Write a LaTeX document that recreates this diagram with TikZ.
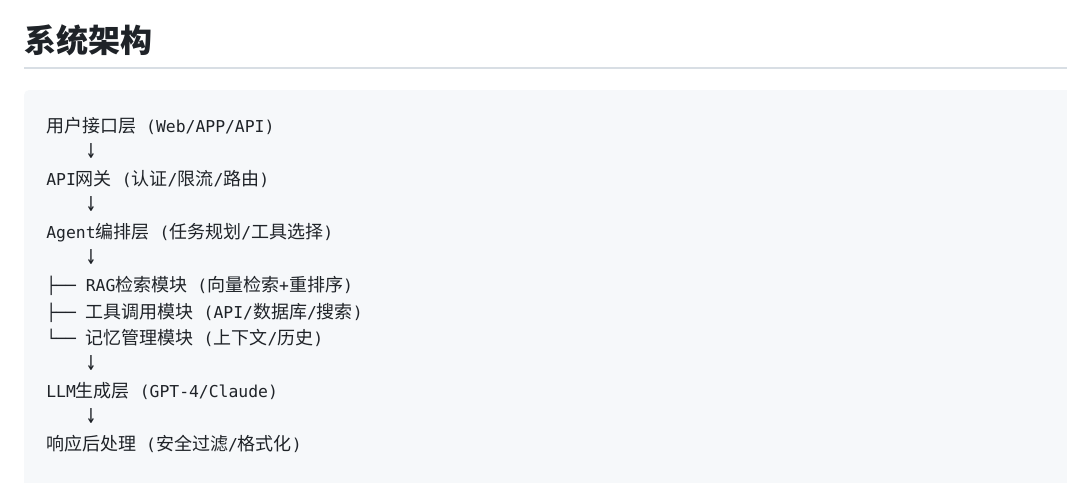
\documentclass[tikz,border=0pt]{standalone}
\usepackage{fontspec}
\newfontfamily\codefont{DejaVu Sans Mono}
\newfontfamily\cjkfont{Noto Sans CJK SC}
\newcommand\zh[1]{{\cjkfont\fontsize{13.5pt}{16pt}\selectfont #1}}
\newcommand\downarr{\scalebox{1.05}[1.7]{↓}}
\definecolor{codebg}{HTML}{F6F8FA}
\definecolor{codeink}{HTML}{1F2328}
\definecolor{rulegray}{HTML}{D8DEE4}
\tikzset{
  codeline/.style={anchor=base west, inner sep=0pt, text=codeink, font=\codefont\fontsize{12.3pt}{15pt}\selectfont},
  headline/.style={anchor=base west, inner sep=0pt, text=codeink, font=\cjkfont\bfseries\fontsize{24pt}{28pt}\selectfont}
}

\begin{document}
\begin{tikzpicture}[x=0.75pt, y=-0.75pt]
  \useasboundingbox (0,0) rectangle (1067,482);
  \fill[white] (0,0) rectangle (1067,482);
  \node[headline] (title) at (24,52) {系统架构};
  \draw[rulegray, line width=1.2pt] (24,68) -- (1067,68);
  \fill[codebg, rounded corners=4pt] (24,90) rectangle (1090,500);
  \node[codeline] (user) at (46,132.5) {\zh{用户接口层} (Web/APP/API)};
  \node[codeline] (arr1) at (85.6,158) {\downarr};
  \node[codeline] (gateway) at (46,185.5) {API\zh{网关} (\zh{认证}/\zh{限流}/\zh{路由})};
  \node[codeline] (arr2) at (85.6,211) {\downarr};
  \node[codeline] (agent) at (46,238.5) {Agent\zh{编排层} (\zh{任务规划}/\zh{工具选择})};
  \node[codeline] (arr3) at (85.6,264) {\downarr};
  \node[codeline] (rag) at (46,291.5) {├── RAG\zh{检索模块} (\zh{向量检索}+\zh{重排序})};
  \node[codeline] (tool) at (46,318) {├── \zh{工具调用模块} (API/\zh{数据库}/\zh{搜索})};
  \node[codeline] (memory) at (46,344.5) {└── \zh{记忆管理模块} (\zh{上下文}/\zh{历史})};
  \node[codeline] (arr4) at (85.6,370) {\downarr};
  \node[codeline] (llm) at (46,397.5) {LLM\zh{生成层} (GPT-4/Claude)};
  \node[codeline] (arr5) at (85.6,423) {\downarr};
  \node[codeline] (post) at (46,450) {\zh{响应后处理} (\zh{安全过滤}/\zh{格式化})};
\end{tikzpicture}
\end{document}
